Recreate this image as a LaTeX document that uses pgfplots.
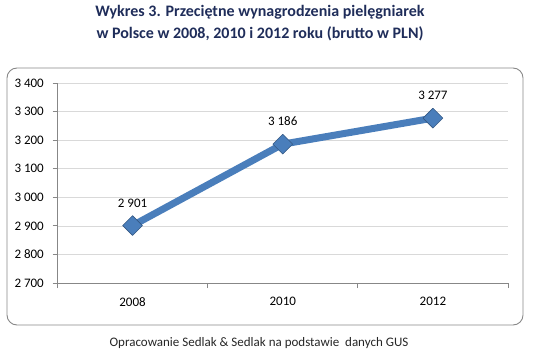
\documentclass[border=0pt]{standalone}
\usepackage{pgfplots}
\pgfplotsset{compat=1.18}
\usepackage{fontspec}
\setmainfont{Carlito}
\definecolor{titleblue}{HTML}{1F2D5A}
\definecolor{lineblue}{HTML}{4A7EBB}
\definecolor{axisgray}{HTML}{878787}
\definecolor{gridgray}{HTML}{D9D9D9}
\begin{document}
\begin{tikzpicture}[x=1pt,y=1pt]
\path[use as bounding box] (0pt,0pt) rectangle (534pt,359pt);
\draw[axisgray, line width=0.9pt, rounded corners=10pt] (7pt,34pt) rectangle (523pt,291pt);
\node[font=\fontsize{16}{22}\selectfont\bfseries, text=titleblue, align=center] at (260pt,336pt) {Wykres 3. Przeciętne wynagrodzenia pielęgniarek\\w Polsce w 2008, 2010 i 2012 roku (brutto w PLN)};
\node[font=\fontsize{13}{15}\selectfont, text=black!85] at (259pt,16pt) {Opracowanie Sedlak \& Sedlak na podstawie \ danych GUS};
\begin{axis}[
  at={(57.5pt,76pt)}, anchor=south west,
  width=450.5pt, height=200pt, scale only axis,
  xmin=-0.5, xmax=2.5, ymin=2700, ymax=3400,
  ytick={2700,2800,2900,3000,3100,3200,3300,3400},
  xtick={-0.5,0.5,1.5,2.5},
  xticklabels={2008,2010,2012},
  x tick label as interval,
  axis lines=left,
  axis line style={-, axisgray, line width=0.9pt},
  tick style={axisgray, line width=0.9pt},
  tick align=outside,
  major tick length=5pt,
  ymajorgrids,
  major grid style={gridgray, line width=0.7pt},
  tick label style={font=\fontsize{13}{15}\selectfont, inner sep=0pt, text=black},
  yticklabel shift=8.5pt,
  xticklabel shift=9pt,
  /pgf/number format/.cd, 1000 sep={\ }, assume math mode=true,
  /pgfplots/.cd,
  clip=false,
  nodes near coords={\pgfmathprintnumber[1000 sep={\ },assume math mode=true]{\pgfplotspointmeta}},
  nodes near coords style={anchor=south, inner sep=0pt, yshift=18pt, font=\fontsize{13}{15}\selectfont, text=black},
]
\addplot[lineblue, line width=7pt, line join=round, mark=square*, mark size=7pt,
  mark options={rotate=45, fill=lineblue, draw=lineblue!70!black, line width=0.6pt}]
  coordinates {(0,2901) (1,3186) (2,3277)};
\end{axis}
\end{tikzpicture}
\end{document}
